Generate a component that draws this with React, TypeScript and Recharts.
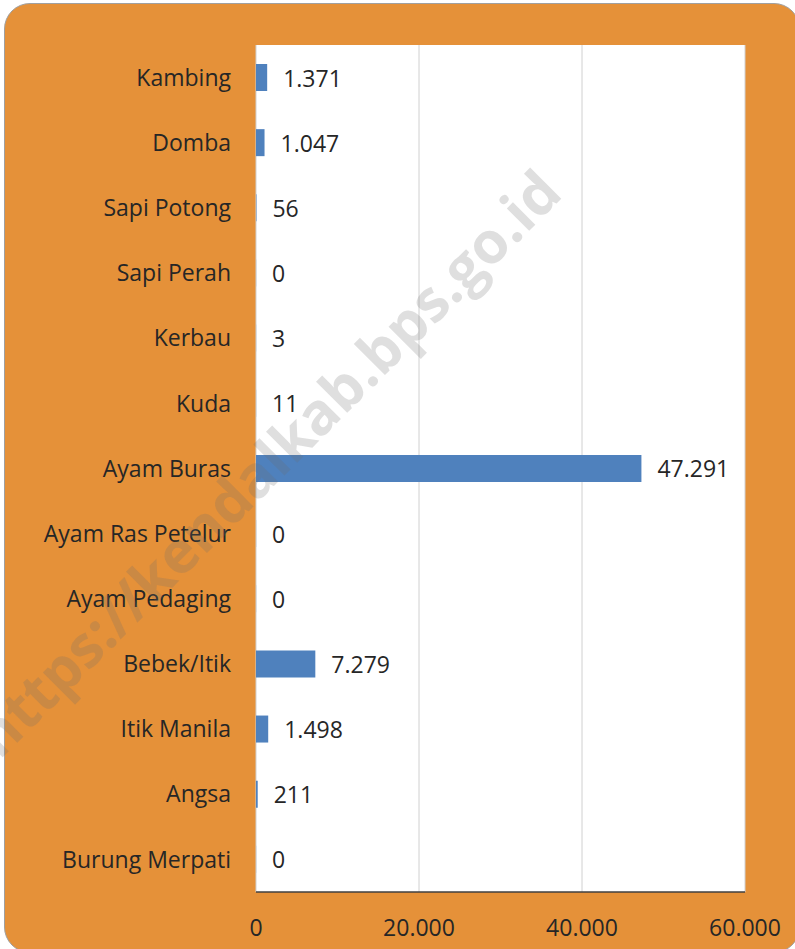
import { BarChart, Bar, XAxis, YAxis, CartesianGrid, LabelList } from 'recharts';

/* ───────── Data ───────── */

const CATEGORIES = [
  'Kambing', 'Domba', 'Sapi Potong', 'Sapi Perah', 'Kerbau', 'Kuda', 'Ayam Buras',
  'Ayam Ras Petelur', 'Ayam Pedaging', 'Bebek/Itik', 'Itik Manila', 'Angsa', 'Burung Merpati',
];
const VALUES = [1371, 1047, 56, 0, 3, 11, 47291, 0, 0, 7279, 1498, 211, 0];
const X_TICKS = [0, 20000, 40000, 60000];

/* ───────── Theme ───────── */

const ORANGE = '#e59139';
const BAR_BLUE = '#4f81bd';
const TEXT = '#262626';
const FONT = '"Open Sans", sans-serif';
const FS = 23;

const fmt = (v: number) => v.toLocaleString('de-DE');

// value label placed 16px past the bar end
function ValueLabel(props: any) {
  const { x, y, width, height, value } = props;
  const w = Number(value) === 0 ? 0 : Number(width || 0);
  return (
    <text
      x={Number(x) + w + 16}
      y={Number(y) + Number(height) / 2}
      dominantBaseline="central"
      fontSize={FS}
      fill={TEXT}
      fontFamily={FONT}
    >
      {fmt(Number(value))}
    </text>
  );
}

export default function App() {
  const data = CATEGORIES.map((name, i) => ({ name, value: VALUES[i] }));

  return (
    <div style={{ position: 'absolute', left: 0, top: 0, width: 795, height: 949, overflow: 'hidden', background: '#fff' }}>
      <div
        style={{
          position: 'absolute', left: 4, top: 3, width: 796, height: 950,
          background: ORANGE, borderRadius: 26, border: '1px solid #a0a0a0', boxSizing: 'border-box',
        }}
      />
      <div style={{ position: 'absolute', left: 0, top: 0 }}>
        <BarChart
          width={795}
          height={949}
          data={data}
          layout="vertical"
          margin={{ top: 45, right: 50, left: 10, bottom: 22 }}
          barSize={27}
          style={{ fontFamily: FONT }}
        >
          <CartesianGrid horizontal={false} stroke="#d0d0d0" fill="#fff" />
          <XAxis
            type="number"
            domain={[0, 60000]}
            ticks={X_TICKS}
            tickFormatter={fmt}
            tick={{ fontSize: FS, fill: TEXT, dy: 20 }}
            tickLine={false}
            axisLine={{ stroke: '#404040', strokeWidth: 1.5 }}
            height={35}
            interval={0}
          />
          <YAxis
            type="category"
            dataKey="name"
            width={246}
            tick={{ fontSize: FS, fill: TEXT, dx: -17 }}
            tickLine={false}
            axisLine={false}
            interval={0}
          />
          <Bar dataKey="value" fill={BAR_BLUE} isAnimationActive={false} minPointSize={0.1}>
            <LabelList dataKey="value" content={<ValueLabel />} />
          </Bar>
          {/* y axis line drawn above the zero-width bars */}
          <YAxis
            yAxisId="line"
            type="category"
            dataKey="name"
            width={0}
            tick={false}
            tickLine={false}
            axisLine={{ stroke: '#202020', strokeWidth: 1.5 }}
          />
        </BarChart>
      </div>
      {/* watermark */}
      <svg width={795} height={949} style={{ position: 'absolute', left: 0, top: 0, pointerEvents: 'none' }}>
        <text
          x={282}
          y={478}
          textAnchor="middle"
          transform="rotate(-45 282 478)"
          fontFamily='"Open Sans", sans-serif'
          fontWeight={700}
          fontSize={58}
          fill="rgba(110,110,110,0.22)"
        >
          https://kendalkab.bps.go.id
        </text>
      </svg>
    </div>
  );
}
